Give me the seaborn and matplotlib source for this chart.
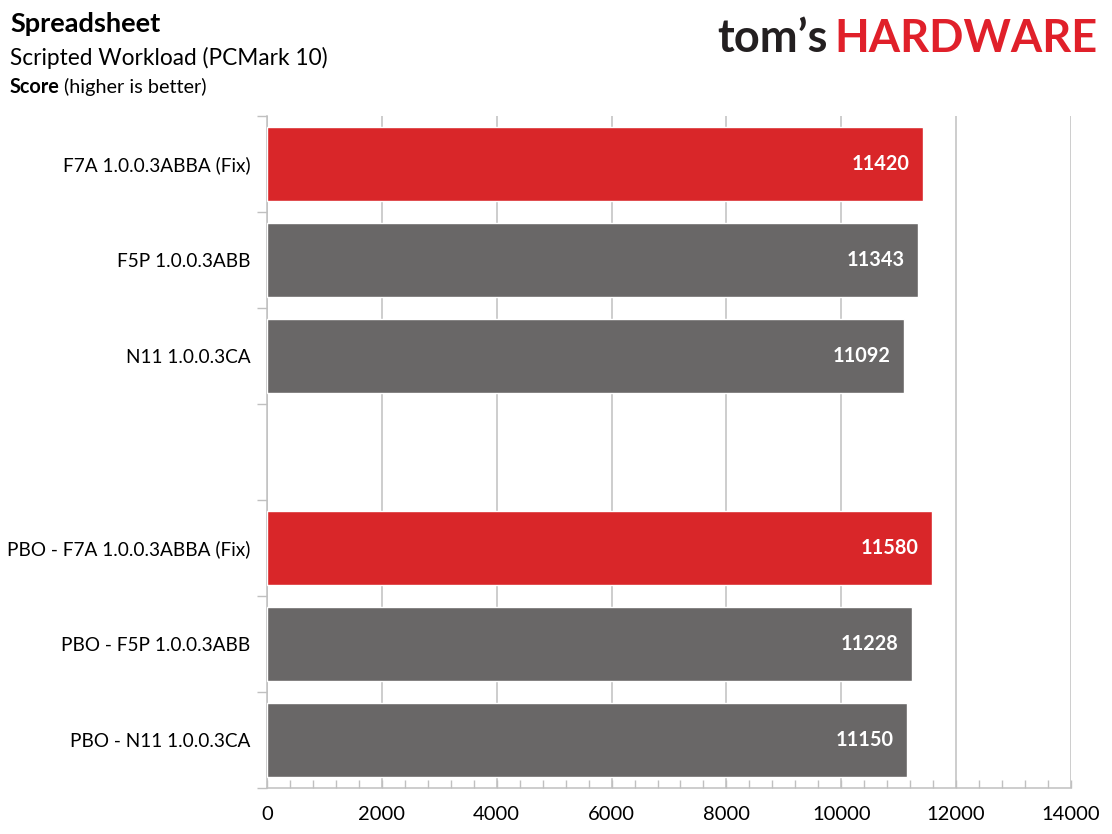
import matplotlib
matplotlib.use("Agg")
import matplotlib.pyplot as plt
import seaborn as sns
import pandas as pd
import numpy as np
from matplotlib.ticker import MultipleLocator, FixedLocator

# ---- data ----
labels = [
    "F7A 1.0.0.3ABBA (Fix)",
    "F5P 1.0.0.3ABB",
    "N11 1.0.0.3CA",
    "PBO - F7A 1.0.0.3ABBA (Fix)",
    "PBO - F5P 1.0.0.3ABB",
    "PBO - N11 1.0.0.3CA",
]
scores = [11420, 11343, 11092, 11580, 11228, 11150]
order = labels[:3] + [" "] + labels[3:]
highlight = ["F7A 1.0.0.3ABBA (Fix)", "PBO - F7A 1.0.0.3ABBA (Fix)"]

RED = "#d92629"
GRAY = "#696767"
GRID = "#c0c0c0"
FONT = ["Lato", "DejaVu Sans"]

sns.set_theme(style="white")
plt.rcParams["font.family"] = FONT

df = pd.DataFrame({"label": labels, "score": scores})
palette = {l: (RED if l in highlight else GRAY) for l in labels}

fig = plt.figure(figsize=(11.12, 8.34), dpi=100)
ax = fig.add_axes([267 / 1112, 1 - 788 / 834, (1071 - 267) / 1112, (788 - 116) / 834])

sns.barplot(data=df, y="label", x="score", hue="label", order=order, hue_order=labels,
            palette=palette, orient="h", width=0.77, saturation=1, legend=False, ax=ax,
            zorder=3)

ax.set_xlim(0, 14000)
ax.set_ylim(len(order) - 0.5, -0.5)
ax.set_xlabel("")
ax.set_ylabel("")

# grid
ax.xaxis.set_major_locator(MultipleLocator(2000))
ax.xaxis.set_minor_locator(MultipleLocator(400))
ax.grid(axis="x", which="major", color=GRID, lw=1.1, zorder=0)
ax.set_axisbelow(True)
ax.tick_params(axis="x", which="both", direction="in", length=6, width=1, color=GRID,
               labelsize=14.5, labelcolor="#000000", pad=13, bottom=True)
ax.set_xticklabels([f"{int(v)}" for v in ax.get_xticks()])

ax.yaxis.set_minor_locator(FixedLocator(np.arange(-0.5, len(order), 1.0)))
ax.tick_params(axis="y", which="major", length=0, labelsize=13.7, labelcolor="#000000", pad=12)
ax.tick_params(axis="y", which="minor", length=7, width=1, color=GRID, left=True)

for s in ["top", "right"]:
    ax.spines[s].set_visible(False)
for s in ["left", "bottom"]:
    ax.spines[s].set_color(GRID)
    ax.spines[s].set_linewidth(1.1)

# value labels
for cont in ax.containers:
    ax.bar_label(cont, labels=[f"{int(v)}" for v in cont.datavalues], padding=-9.5,
                 color="white", fontweight="bold", fontsize=14.3, zorder=5)
for t in ax.texts:
    t.set_ha("right")

# titles
fig.text(10 / 1112, 1 - 32 / 834, "Spreadsheet", fontsize=19.5, fontweight="bold",
         color="#000000", va="baseline", ha="left")
fig.text(10 / 1112, 1 - 65 / 834, "Scripted Workload (PCMark 10)", fontsize=16.3,
         color="#000000", va="baseline", ha="left")
t1 = fig.text(10 / 1112, 1 - 93 / 834, "Score", fontsize=14.3, fontweight="bold",
              color="#000000", va="baseline", ha="left")
fig.canvas.draw()
r = fig.canvas.get_renderer()
bb = t1.get_window_extent(r)
fig.text((bb.x1 + 4) / 1112, 1 - 93 / 834, "(higher is better)", fontsize=14.3,
         color="#000000", va="baseline", ha="left")

# logo
h = fig.text(1097 / 1112, 1 - 52 / 834, "HARDWARE", fontsize=32.5, fontweight="bold",
             color="#e0202a", va="baseline", ha="right")
fig.canvas.draw()
bb = h.get_window_extent(r)
fig.text((bb.x0 - 6) / 1112, 1 - 52 / 834, "tom\u2019s", fontsize=32.5, fontweight="bold",
         color="#231f20", va="baseline", ha="right")

fig.savefig("out.png", dpi=100)
